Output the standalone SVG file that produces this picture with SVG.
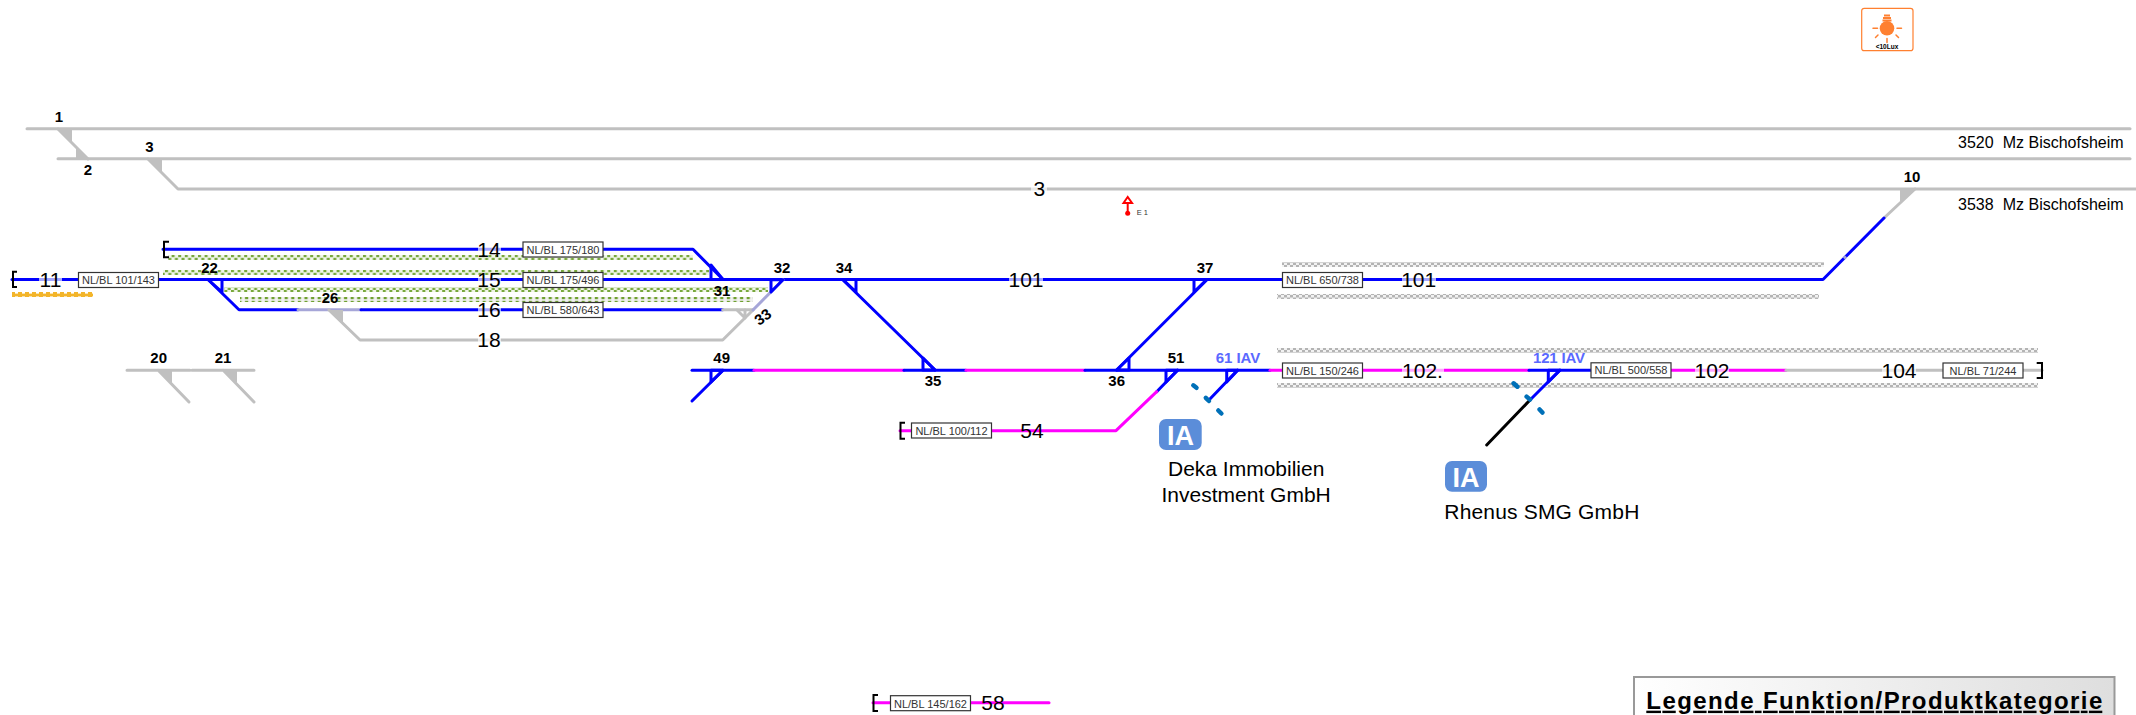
<svg xmlns="http://www.w3.org/2000/svg" width="2136" height="715" viewBox="0 0 2136 715">
<style>
text{font-family:"Liberation Sans",Arial,sans-serif;fill:#000}
.t{fill:none;stroke-width:3;stroke-linecap:round;stroke-linejoin:round}
.b{stroke:#0000ff}.g{stroke:#c0c0c0}.m{stroke:#ff00ff}.gb{stroke:#a6a6d8}.k{stroke:#000}
.gw{fill:#c0c0c0}
.w{fill:none;stroke:#0000ff;stroke-width:3;stroke-linejoin:round}
.br{fill:none;stroke:#000;stroke-width:2}
.n{font-size:15px;font-weight:bold;text-anchor:middle}
.iav{font-size:15px;font-weight:bold;text-anchor:middle;fill:#5a68ff}
.l{font-size:21px;text-anchor:middle}
.halo{fill:#fff;opacity:.65}
.bx{fill:#fff;stroke:#333;stroke-width:1.2}
.bt{font-size:11px;text-anchor:middle;fill:#333}
.d{fill:none;stroke:#0070b8;stroke-width:4.5;stroke-linecap:round}
.ia{fill:#5b8dd9}
.iat{fill:#fff;font-size:27px;font-weight:bold;text-anchor:middle}
.tx{font-size:21px}
.st{font-size:16px}
</style>
<defs>
<pattern id="pg" width="6.6" height="5" patternUnits="userSpaceOnUse"><rect width="6.6" height="5" fill="#f1f5ea"/><rect width="3" height="2.2" fill="#78a83c"/><rect x="3.3" y="2.8" width="3" height="2.2" fill="#78a83c"/></pattern>
<pattern id="pd" width="6.6" height="5" patternUnits="userSpaceOnUse"><rect width="6.6" height="5" fill="#f1f1f1"/><rect x=".8" y=".8" width="3.2" height="3.4" fill="#6fa030"/></pattern>
<pattern id="py" width="7" height="5" patternUnits="userSpaceOnUse"><rect width="7" height="5" fill="#f3b52a"/><rect x="1" y="1.4" width="3" height="2.2" fill="#fff"/></pattern>
<pattern id="pk" width="6" height="5" patternUnits="userSpaceOnUse"><rect width="6" height="5" fill="#f2f2f2"/><rect width="3" height="2.5" fill="#b4b4b4"/><rect x="3" y="2.5" width="3" height="2.5" fill="#b4b4b4"/></pattern>
<linearGradient id="lg" x1="0" x2="1" y1="0" y2="0"><stop offset="0" stop-color="#fff"/><stop offset="1" stop-color="#dedede"/></linearGradient>
</defs>

<g id="strips">
<rect x="168" y="255" width="525" height="5" fill="url(#pg)"/>
<rect x="163" y="270" width="546" height="5" fill="url(#pg)"/>
<rect x="224" y="287" width="544" height="5" fill="url(#pg)"/>
<rect x="240" y="297" width="513" height="5" fill="url(#pd)"/>
<rect x="12" y="292" width="81" height="5" fill="url(#py)"/>
<rect x="1282" y="262" width="542" height="5" fill="url(#pk)"/>
<rect x="1277" y="294" width="542" height="5" fill="url(#pk)"/>
<rect x="1277" y="348" width="761" height="5" fill="url(#pk)"/>
<rect x="1277" y="383" width="761" height="5" fill="url(#pk)"/>
</g>

<g id="connectors">
<path class="t g" d="M27 128.7H2130"/>
<path class="t g" d="M58 158.7H2130"/>
<path class="t g" d="M58 129L88 159"/>
<path class="t g" d="M148 159L178 189H2136"/>
<path class="t g" d="M1915 189L1884 218"/>
<path class="t b" d="M1884 218L1823 279.5H1362"/>
<path d="M1844 256.500L1846 258.500" stroke="#a6a6d8" stroke-width="3" fill="none"/>
<path class="t b" d="M12 279.5H1282"/>
<path class="t b" d="M163 249.3H693L723 279.5"/>
<path class="t b" d="M208 279.5L239 309.7H298"/>
<path class="t gb" d="M298 309.7H361"/>
<path class="t b" d="M361 309.7H722.7"/>
<path class="t g" d="M722.7 309.7H753"/>
<path class="t g" d="M329 310L360 340H722.7L753 310"/>
<path class="t gb" d="M753 310L783 279.7"/>
<path class="t g" d="M737 310L745 318V310"/>
<path class="t b" d="M843 280L935 370"/>
<path class="t b" d="M1206.7 280L1116.7 370"/>
<path class="t b" d="M723 370.3L692 401"/>
<path class="t b" d="M692 370.3H754"/>
<path class="t m" d="M754 370.3H904"/>
<path class="t b" d="M904 370.3H966"/>
<path class="t m" d="M966 370.3H1085"/>
<path class="t b" d="M1085 370.3H1270"/>
<path class="t m" d="M1270 370.3H1529"/>
<path class="t b" d="M1529 370.3H1640"/>
<path class="t m" d="M1640 370.3H1786"/>
<path class="t g" d="M1786 370.3H2042"/>
<path class="t b" d="M1177.7 370L1156.7 391.7"/>
<path class="t m" d="M1156.7 391.7L1116 430.7H900"/>
<path class="t b" d="M1237.7 370L1209 400"/>
<path class="t b" d="M1560 370L1530 400"/>
<path class="t k" d="M1530 400L1486.7 445"/>
<path class="t m" d="M873 702.7H1049"/>
<path class="t g" d="M127 370.3H190M158 370L189 402"/>
<path class="t g" d="M192 370.3H254M223 370L254 402"/>
</g>

<g id="wedges">
<polygon class="gw" points="58,129 72,129 72,143"/>
<polygon class="gw" points="76,148 89,159 76,159"/>
<polygon class="gw" points="148,159 162,159 162,172"/>
<polygon class="gw" points="329,310 343,310 343,323"/>
<polygon class="gw" points="158,370 172,370 172,383"/>
<polygon class="gw" points="223,370 237,370 237,383"/>
<polygon class="gw" points="1900,189 1915,189 1900,202"/>
<polygon class="w" points="208,279.5 222,279.5 222,292"/>
<polygon class="w" points="711,265 723,279.5 711,279.5"/>
<polygon class="w" points="771,279.7 783,279.7 771,292"/>
<polygon class="w" points="843,279.5 856,279.5 856,292"/>
<polygon class="w" points="923,358 935,370 923,370"/>
<polygon class="w" points="1194,279.5 1206.7,279.5 1194,292"/>
<polygon class="w" points="1129,358 1129,370 1116.7,370"/>
<polygon class="w" points="711,370.3 723,370.3 711,382"/>
<polygon class="w" points="1166,370.3 1177.7,370.3 1166,382"/>
<polygon class="w" points="1226.7,370.3 1237.7,370.3 1226.7,382"/>
<polygon class="w" points="1548.3,370.3 1560,370.3 1548.3,382"/>
</g>

<g id="brackets">
<path class="br" d="M17 271.7H13V287H17"/>
<path class="br" d="M169 241.7H164V257.3H169"/>
<path class="br" d="M905 422.7H900.5V438.7H905"/>
<path class="br" d="M878 695H873.5V711H878"/>
<path class="br" d="M2036.700 363H2042V378H2036.700"/>
</g>

<g id="halos">
<rect class="halo" x="39" y="276" width="23" height="7"/>
<rect class="halo" x="478" y="246" width="23" height="7"/>
<rect class="halo" x="478" y="276" width="23" height="7"/>
<rect class="halo" x="478" y="306" width="23" height="7"/>
<rect class="halo" x="478" y="336" width="23" height="7"/>
<rect class="halo" x="1009" y="276" width="34" height="7"/>
<rect class="halo" x="1402" y="276" width="34" height="7"/>
<rect class="halo" x="1402" y="367" width="42" height="7"/>
<rect class="halo" x="1695" y="367" width="34" height="7"/>
<rect class="halo" x="1882" y="367" width="34" height="7"/>
<rect class="halo" x="1031" y="186" width="16" height="7"/>
</g>

<g id="track-labels">
<text class="l" x="50.5" y="287">11</text>
<text class="l" x="489" y="256.8">14</text>
<text class="l" x="489" y="287">15</text>
<text class="l" x="489" y="317">16</text>
<text class="l" x="489" y="347.300">18</text>
<text class="l" x="1039.300" y="196.300">3</text>
<text class="l" x="1026" y="286.8">101</text>
<text class="l" x="1418.7" y="286.8">101</text>
<text class="l" x="1422.500" y="377.800">102.</text>
<text class="l" x="1712" y="377.800">102</text>
<text class="l" x="1899" y="377.800">104</text>
<text class="l" x="1032" y="438.300">54</text>
<text class="l" x="993" y="710.300">58</text>
</g>

<g id="switch-labels">
<text class="n" x="59" y="122">1</text>
<text class="n" x="88" y="175">2</text>
<text class="n" x="149.5" y="152">3</text>
<text class="n" x="209.5" y="273">22</text>
<text class="n" x="330" y="303">26</text>
<text class="n" x="158.7" y="363">20</text>
<text class="n" x="223" y="363">21</text>
<text class="n" x="722" y="296">31</text>
<text class="n" x="782" y="273">32</text>
<text class="n" transform="translate(763,317) rotate(-35)" y="5">33</text>
<text class="n" x="844" y="273">34</text>
<text class="n" x="933" y="386">35</text>
<text class="n" x="1116.7" y="386">36</text>
<text class="n" x="1205" y="273">37</text>
<text class="n" x="721.7" y="363">49</text>
<text class="n" x="1176" y="363">51</text>
<text class="n" x="1912" y="182">10</text>
<text class="iav" x="1238" y="363" textLength="44.500" lengthAdjust="spacing">61 IAV</text>
<text class="iav" x="1559" y="363" textLength="52" lengthAdjust="spacing">121 IAV</text>
</g>

<g id="boxes">
<g id="box-101-143"><rect class="bx" x="78.5" y="272.5" width="80" height="15"/><text class="bt" x="118.5" y="284">NL/BL 101/143</text></g>
<g id="box-175-180"><rect class="bx" x="523" y="242" width="80" height="15"/><text class="bt" x="563" y="253.5">NL/BL 175/180</text></g>
<g id="box-175-496"><rect class="bx" x="523" y="272.5" width="80" height="15"/><text class="bt" x="563" y="284">NL/BL 175/496</text></g>
<g id="box-580-643"><rect class="bx" x="523" y="302.5" width="80" height="15"/><text class="bt" x="563" y="314">NL/BL 580/643</text></g>
<g id="box-650-738"><rect class="bx" x="1282.5" y="272.5" width="80" height="15"/><text class="bt" x="1322.5" y="284">NL/BL 650/738</text></g>
<g id="box-150-246"><rect class="bx" x="1282.5" y="363" width="80" height="15"/><text class="bt" x="1322.5" y="375">NL/BL 150/246</text></g>
<g id="box-500-558"><rect class="bx" x="1591" y="362.8" width="80" height="15"/><text class="bt" x="1631" y="374">NL/BL 500/558</text></g>
<g id="box-71-244"><rect class="bx" x="1943" y="363" width="80" height="15"/><text class="bt" x="1983" y="375">NL/BL 71/244</text></g>
<g id="box-100-112"><rect class="bx" x="911.5" y="423" width="80" height="15"/><text class="bt" x="951.5" y="435">NL/BL 100/112</text></g>
<g id="box-145-162"><rect class="bx" x="890.5" y="695.7" width="80" height="15"/><text class="bt" x="930.5" y="708">NL/BL 145/162</text></g>
</g>

<g id="barriers">
<path class="d" d="M1193.300 385.300L1196.500 387.800M1205.800 397.800L1209 401M1218.300 410.500L1221.400 413.500"/>
<path class="d" d="M1513.600 383.300L1517.400 386.700M1526.600 396.600L1530 399.500M1539.600 409.500L1542.400 412.500"/>
</g>

<g id="ia-deka">
<rect class="ia" x="1159" y="419" width="42.7" height="31" rx="7"/>
<text class="iat" x="1180.5" y="444.5">IA</text>
<text class="tx" x="1168" y="476">Deka Immobilien</text>
<text class="tx" x="1161.5" y="501.7">Investment GmbH</text>
</g>
<g id="ia-rhenus">
<rect class="ia" x="1445" y="461" width="42" height="30.7" rx="7"/>
<text class="iat" x="1466" y="486.5">IA</text>
<text class="tx" x="1444.3" y="519.3" textLength="195" lengthAdjust="spacing">Rhenus SMG GmbH</text>
</g>

<g id="line-labels">
<text class="st" x="1958" y="148.3">3520</text>
<text class="st" x="2002.7" y="148.3">Mz Bischofsheim</text>
<text class="st" x="1958" y="210">3538</text>
<text class="st" x="2002.7" y="210">Mz Bischofsheim</text>
</g>

<g id="signal-e1">
<path d="M1127.700 201V212" fill="none" stroke="#ff0000" stroke-width="2"/>
<path d="M1123.500 203L1127.700 197L1132 203Z" fill="#fff" stroke="#ff0000" stroke-width="2"/>
<circle cx="1127.700" cy="213.300" r="2.500" fill="#ff0000"/>
<text x="1136.700" y="214.700" font-size="7.500" style="fill:#333">E 1</text>
</g>

<g id="lux-icon">
<rect x="1861.7" y="8.3" width="51.3" height="42.4" rx="2.5" fill="#fff" stroke="#ff8030" stroke-width="1.2"/>
<circle cx="1887" cy="28.3" r="7.3" fill="#ff8030"/>
<path d="M1884 15.5h6M1883 18h8M1882.5 20.5h9" stroke="#ff8030" stroke-width="2" fill="none"/>
<path d="M1873 28.3h4.5M1897 28.3h4.5M1878 35l-2.500 2.500M1896 35l2.500 2.500M1887 38.500v4" stroke="#ff8030" stroke-width="1.500" fill="none" stroke-linecap="round"/>
<text x="1887" y="48.500" font-size="6.500" font-weight="bold" text-anchor="middle">&lt;10Lux</text>
</g>

<g id="legend">
<rect x="1634" y="677" width="480.500" height="50" fill="url(#lg)" stroke="#999" stroke-width="2"/>
<text x="1646.300" y="708.700" font-size="24" font-weight="bold" text-decoration="underline" textLength="456" lengthAdjust="spacing">Legende Funktion/Produktkategorie</text>
</g>
</svg>
